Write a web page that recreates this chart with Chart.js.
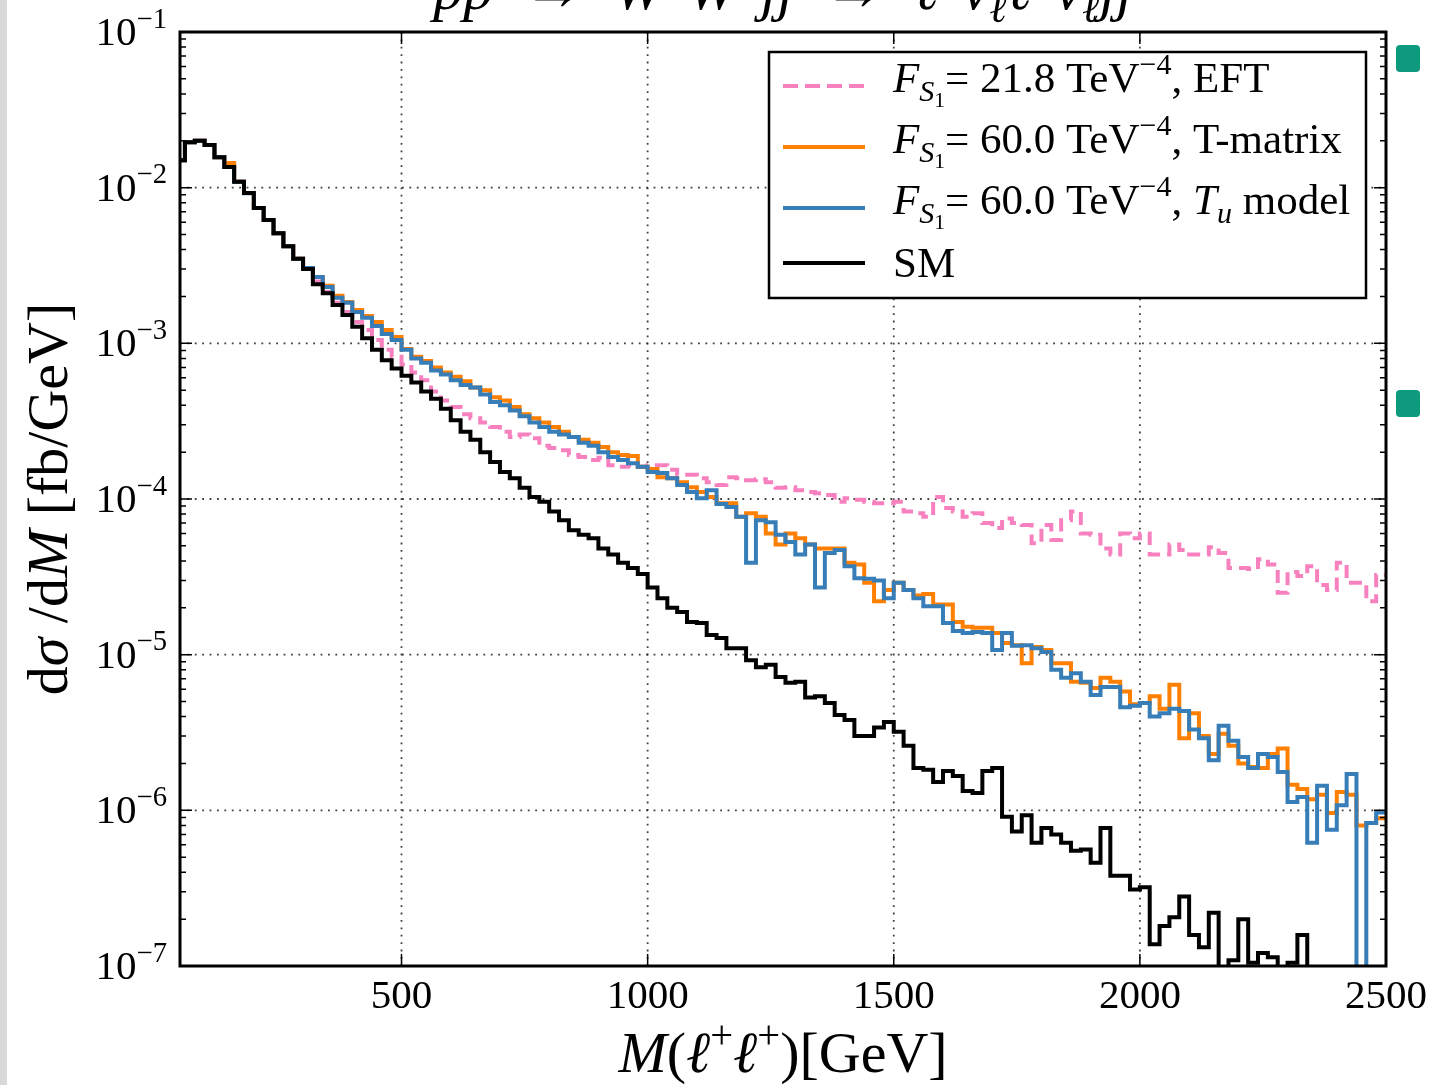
<!DOCTYPE html>
<html>
<head>
<meta charset="utf-8">
<title>dσ/dM – W+W+jj</title>
<script src="https://cdn.jsdelivr.net/npm/chart.js@4.4.0/dist/chart.umd.min.js"></script>
<style>
    html, body { margin: 0; padding: 0; background: #fff; }
    #wrap { position: relative; width: 1429px; height: 1085px; overflow: hidden; }
    #leftStrip { position: absolute; left: 0; top: 0; width: 7px; height: 1085px; background: #d9d9d9; }
    .marker { position: absolute; left: 1396px; width: 24px; height: 27px; background: #0e9a7c; border-radius: 4px; }
</style>
</head>
<body>
<div id="wrap">
    <canvas id="histChart" width="1429" height="1085"></canvas>
    <div id="leftStrip"></div>
    <div class="marker" style="top:45px"></div>
    <div class="marker" style="top:390px"></div>
</div>
<script>
// Гистограммы dσ/dM, бины по 20 ГэВ начиная с 40 ГэВ (левые края)
const BIN_WIDTH = 20;
const binLowEdges = Array.from({ length: 123 }, (_, i) => 40 + i * BIN_WIDTH);
const X_MIN = 50;
const X_MAX = 2500;

// Стандартная модель
const smValues = [
    1.5e-2, 1.96e-2, 2.0e-2, 1.88e-2, 1.57e-2, 1.36e-2, 1.09e-2, 9.25e-3, 7.4e-3, 6.2e-3,
    5.1e-3, 4.2e-3, 3.5e-3, 3.0e-3, 2.4e-3, 2.1e-3, 1.76e-3, 1.52e-3, 1.28e-3, 1.08e-3,
    9.1e-4, 7.8e-4, 6.9e-4, 6.2e-4, 5.6e-4, 4.9e-4, 4.4e-4, 3.8e-4, 3.2e-4, 2.7e-4,
    2.4e-4, 2.0e-4, 1.73e-4, 1.49e-4, 1.36e-4, 1.18e-4, 1.03e-4, 9.6e-5, 8.3e-5, 7.3e-5,
    6.3e-5, 5.9e-5, 5.6e-5, 4.8e-5, 4.4e-5, 3.9e-5, 3.6e-5, 3.3e-5, 2.7e-5, 2.3e-5,
    2.0e-5, 1.88e-5, 1.62e-5, 1.6e-5, 1.34e-5, 1.28e-5, 1.1e-5, 1.1e-5, 9.2e-6, 8.3e-6,
    8.6e-6, 7.2e-6, 6.6e-6, 6.7e-6, 5.3e-6, 5.4e-6, 4.9e-6, 4.1e-6, 3.8e-6, 3.0e-6,
    3.0e-6, 3.4e-6, 3.7e-6, 3.2e-6, 2.6e-6, 1.87e-6, 1.82e-6, 1.52e-6, 1.79e-6, 1.66e-6,
    1.33e-6, 1.29e-6, 1.79e-6, 1.87e-6, 9.1e-7, 7.3e-7, 9.3e-7, 6.2e-7, 7.7e-7, 7.0e-7,
    6.2e-7, 5.5e-7, 5.6e-7, 4.6e-7, 7.7e-7, 3.8e-7, 3.8e-7, 3.1e-7, 3.2e-7, 1.38e-7,
    1.81e-7, 2.06e-7, 2.8e-7, 1.58e-7, 1.32e-7, 2.2e-7, 0, 1.09e-7, 2.0e-7, 1.05e-7,
    1.21e-7, 1.14e-7, 0, 1.05e-7, 1.58e-7, 0, 0, 0, 0, 0,
    0, 0, 0
];

// F_S1 = 60 TeV^-4, T_u модель
const tuValues = [
    1.5e-2, 1.96e-2, 2.0e-2, 1.88e-2, 1.57e-2, 1.36e-2, 1.09e-2, 9.2e-3, 7.4e-3, 6.2e-3,
    5.1e-3, 4.2e-3, 3.5e-3, 3.05e-3, 2.67e-3, 2.3e-3, 1.96e-3, 1.82e-3, 1.59e-3, 1.46e-3,
    1.29e-3, 1.15e-3, 1.05e-3, 9.1e-4, 8.0e-4, 7.5e-4, 6.7e-4, 6.3e-4, 5.8e-4, 5.4e-4,
    5.2e-4, 4.7e-4, 4.2e-4, 4.0e-4, 3.7e-4, 3.4e-4, 3.1e-4, 2.9e-4, 2.7e-4, 2.6e-4,
    2.5e-4, 2.3e-4, 2.2e-4, 2.0e-4, 1.86e-4, 1.78e-4, 1.7e-4, 1.61e-4, 1.49e-4, 1.47e-4,
    1.36e-4, 1.23e-4, 1.11e-4, 1.01e-4, 1.14e-4, 9.3e-5, 8.9e-5, 7.7e-5, 3.9e-5, 7.3e-5,
    7.1e-5, 5.9e-5, 5.3e-5, 4.4e-5, 5.1e-5, 2.7e-5, 4.5e-5, 4.7e-5, 3.7e-5, 3.1e-5,
    3.07e-5, 3.0e-5, 2.3e-5, 2.9e-5, 2.6e-5, 2.3e-5, 2.05e-5, 2.05e-5, 1.6e-5, 1.42e-5,
    1.38e-5, 1.4e-5, 1.38e-5, 1.07e-5, 1.38e-5, 1.14e-5, 1.15e-5, 1.1e-5, 1.04e-5, 8.0e-6,
    7.1e-6, 7.6e-6, 6.7e-6, 5.5e-6, 6.2e-6, 6.2e-6, 4.6e-6, 4.7e-6, 4.9e-6, 4.0e-6,
    4.2e-6, 4.5e-6, 4.35e-6, 3.3e-6, 2.9e-6, 2.1e-6, 3.5e-6, 2.8e-6, 2.2e-6, 1.87e-6,
    2.3e-6, 2.2e-6, 1.76e-6, 1.13e-6, 1.22e-6, 6.2e-7, 1.44e-6, 7.5e-7, 1.08e-6, 1.71e-6,
    0, 8.3e-7, 9.7e-7
];

// F_S1 = 60 TeV^-4, T-матрица
const tMatrixValues = [
    1.5e-2, 1.96e-2, 2.0e-2, 1.88e-2, 1.57e-2, 1.44e-2, 1.09e-2, 9.25e-3, 7.4e-3, 6.2e-3,
    5.1e-3, 4.2e-3, 3.5e-3, 3.05e-3, 2.67e-3, 2.34e-3, 2.02e-3, 1.84e-3, 1.64e-3, 1.5e-3,
    1.37e-3, 1.22e-3, 1.1e-3, 9.2e-4, 8.2e-4, 7.7e-4, 7.0e-4, 6.5e-4, 6.1e-4, 5.7e-4,
    5.2e-4, 5.0e-4, 4.5e-4, 4.3e-4, 3.9e-4, 3.5e-4, 3.3e-4, 3.1e-4, 2.9e-4, 2.7e-4,
    2.5e-4, 2.4e-4, 2.3e-4, 2.16e-4, 2.0e-4, 1.92e-4, 1.89e-4, 1.61e-4, 1.56e-4, 1.38e-4,
    1.36e-4, 1.28e-4, 1.19e-4, 1.11e-4, 1.03e-4, 9.4e-5, 9.4e-5, 7.7e-5, 8.1e-5, 7.7e-5,
    6.0e-5, 5.1e-5, 6.0e-5, 5.6e-5, 5.1e-5, 4.8e-5, 4.8e-5, 4.8e-5, 3.9e-5, 3.8e-5,
    2.9e-5, 2.2e-5, 2.6e-5, 2.9e-5, 2.6e-5, 2.4e-5, 2.45e-5, 2.1e-5, 2.1e-5, 1.62e-5,
    1.51e-5, 1.49e-5, 1.49e-5, 1.38e-5, 1.19e-5, 1.15e-5, 8.8e-6, 1.12e-5, 1.07e-5, 8.8e-6,
    8.8e-6, 6.7e-6, 6.6e-6, 6.1e-6, 7.1e-6, 6.7e-6, 5.8e-6, 4.8e-6, 4.9e-6, 5.4e-6,
    4.5e-6, 6.4e-6, 2.9e-6, 4.2e-6, 3.0e-6, 2.3e-6, 3.1e-6, 2.6e-6, 2.0e-6, 1.9e-6,
    1.87e-6, 2.3e-6, 2.5e-6, 1.46e-6, 1.37e-6, 1.18e-6, 1.26e-6, 9.6e-7, 1.31e-6, 1.26e-6,
    8.0e-7, 8.3e-7, 8.9e-7
];

// F_S1 = 21.8 TeV^-4, EFT
const eftValues = [
    1.5e-2, 1.96e-2, 2.0e-2, 1.88e-2, 1.57e-2, 1.36e-2, 1.09e-2, 9.25e-3, 7.4e-3, 6.2e-3,
    5.1e-3, 4.2e-3, 3.5e-3, 3.0e-3, 2.5e-3, 2.14e-3, 1.82e-3, 1.59e-3, 1.37e-3, 1.22e-3,
    1.05e-3, 9.1e-4, 8.2e-4, 7.3e-4, 6.5e-4, 5.8e-4, 4.9e-4, 4.3e-4, 3.9e-4, 3.5e-4,
    3.3e-4, 3.1e-4, 2.9e-4, 2.7e-4, 2.5e-4, 2.6e-4, 2.46e-4, 2.2e-4, 2.13e-4, 2.06e-4,
    1.92e-4, 1.86e-4, 1.78e-4, 1.84e-4, 1.65e-4, 1.61e-4, 1.65e-4, 1.61e-4, 1.65e-4, 1.65e-4,
    1.54e-4, 1.43e-4, 1.43e-4, 1.36e-4, 1.28e-4, 1.23e-4, 1.38e-4, 1.36e-4, 1.32e-4, 1.34e-4,
    1.28e-4, 1.18e-4, 1.19e-4, 1.14e-4, 1.11e-4, 1.09e-4, 1.06e-4, 9.6e-5, 1.01e-4, 9.9e-5,
    9.6e-5, 9.4e-5, 9.4e-5, 9.6e-5, 8.3e-5, 8.1e-5, 7.7e-5, 1.03e-4, 8.75e-5, 8.3e-5,
    7.7e-5, 8.1e-5, 7.0e-5, 6.5e-5, 7.5e-5, 7.0e-5, 6.8e-5, 5.2e-5, 6.8e-5, 5.45e-5,
    7.3e-5, 8.3e-5, 6.0e-5, 5.9e-5, 4.8e-5, 4.4e-5, 6.0e-5, 5.6e-5, 6.0e-5, 4.4e-5,
    4.4e-5, 5.1e-5, 4.7e-5, 4.4e-5, 4.4e-5, 4.9e-5, 4.5e-5, 3.6e-5, 3.6e-5, 3.55e-5,
    4.1e-5, 3.8e-5, 2.5e-5, 3.4e-5, 3.2e-5, 3.7e-5, 2.8e-5, 2.6e-5, 3.9e-5, 2.9e-5,
    2.9e-5, 2.2e-5, 3.25e-5
];

// Подписи осей
const xTickValues = [500, 1000, 1500, 2000, 2500];
const yTickExponents = [-7, -6, -5, -4, -3, -2, -1];

const SERIF = "'Liberation Serif', 'DejaVu Serif', serif";
const EMPTY_BIN = 1e-12; // пустой бин: линия уходит под нижнюю ось
const LINE_W = 4;

// точки ступенчатой линии: левые края + правый край последнего бина
function toSteps(values) {
    const pts = binLowEdges.map((edge, i) => ({ x: edge, y: values[i] > 0 ? values[i] : EMPTY_BIN }));
    const last = values[values.length - 1];
    pts.push({ x: binLowEdges[binLowEdges.length - 1] + BIN_WIDTH, y: last > 0 ? last : EMPTY_BIN });
    return pts;
}

// текст с курсивом, индексами и степенями
function richText(ctx, parts, x, y, size, align) {
    const specs = parts.map(([t, kind]) => {
        let s = size, dy = 0, italic = false;
        if (kind === 'i') italic = true;
        if (kind === 'sup') { s = size * 0.7; dy = -size * 0.42; }
        if (kind === 'sub') { s = size * 0.7; dy = size * 0.22; }
        if (kind === 'subi') { s = size * 0.7; dy = size * 0.22; italic = true; }
        if (kind === 'subsub') { s = size * 0.5; dy = size * 0.36; }
        return { t, dy, font: (italic ? 'italic ' : '') + s + 'px ' + SERIF };
    });
    let width = 0;
    specs.forEach(sp => { ctx.font = sp.font; sp.w = ctx.measureText(sp.t).width; width += sp.w; });
    let cx = x;
    if (align === 'center') cx = x - width / 2;
    if (align === 'right') cx = x - width;
    ctx.textAlign = 'left';
    ctx.textBaseline = 'alphabetic';
    specs.forEach(sp => { ctx.font = sp.font; ctx.fillText(sp.t, cx, y + sp.dy); cx += sp.w; });
    return width;
}

const legendRows = [
    { color: '#f781bf', dash: [15, 7], parts: [['F', 'i'], ['S', 'subi'], ['1', 'subsub'], ['= 21.8 TeV', 'r'], ['−4', 'sup'], [', EFT', 'r']] },
    { color: '#ff7f00', dash: [], parts: [['F', 'i'], ['S', 'subi'], ['1', 'subsub'], ['= 60.0 TeV', 'r'], ['−4', 'sup'], [', T-matrix', 'r']] },
    { color: '#377eb8', dash: [], parts: [['F', 'i'], ['S', 'subi'], ['1', 'subsub'], ['= 60.0 TeV', 'r'], ['−4', 'sup'], [', ', 'r'], ['T', 'i'], ['u', 'subi'], [' model', 'r']] },
    { color: '#000000', dash: [], parts: [['SM', 'r']] }
];

const axesPlugin = {
    id: 'axesDecor',
    beforeDatasetsDraw(chart) {
        const { ctx, chartArea: a, scales: { x, y } } = chart;
        ctx.save();
        ctx.strokeStyle = 'rgba(30,30,30,0.85)';
        ctx.lineWidth = 1.8;
        ctx.setLineDash([1.8, 5.6]);
        xTickValues.forEach(v => {
            const px = x.getPixelForValue(v);
            if (px > a.right - 3) return;
            ctx.beginPath(); ctx.moveTo(px, a.top); ctx.lineTo(px, a.bottom); ctx.stroke();
        });
        yTickExponents.forEach(e => {
            const py = y.getPixelForValue(Math.pow(10, e));
            if (py < a.top + 3 || py > a.bottom - 3) return;
            ctx.beginPath(); ctx.moveTo(a.left, py); ctx.lineTo(a.right, py); ctx.stroke();
        });
        ctx.restore();
    },
    afterDraw(chart) {
        const { ctx, chartArea: a, scales: { x, y } } = chart;
        ctx.save();
        ctx.fillStyle = '#000';
        ctx.strokeStyle = '#000';

        // риски внутрь
        ctx.lineWidth = 1.5;
        xTickValues.forEach(v => {
            const px = x.getPixelForValue(v);
            ctx.beginPath();
            ctx.moveTo(px, a.bottom); ctx.lineTo(px, a.bottom - 12);
            ctx.moveTo(px, a.top); ctx.lineTo(px, a.top + 12);
            ctx.stroke();
        });
        yTickExponents.forEach(e => {
            const py = y.getPixelForValue(Math.pow(10, e));
            ctx.beginPath();
            ctx.moveTo(a.left, py); ctx.lineTo(a.left + 12, py);
            ctx.moveTo(a.right, py); ctx.lineTo(a.right - 12, py);
            ctx.stroke();
            if (e === -1) return;
            for (let m = 2; m <= 9; m++) {
                const pm = y.getPixelForValue(m * Math.pow(10, e));
                ctx.beginPath();
                ctx.moveTo(a.left, pm); ctx.lineTo(a.left + 6, pm);
                ctx.moveTo(a.right, pm); ctx.lineTo(a.right - 6, pm);
                ctx.stroke();
            }
        });

        // рамка
        ctx.lineWidth = 3;
        ctx.strokeRect(a.left, a.top, a.right - a.left, a.bottom - a.top);

        // подписи делений
        xTickValues.forEach(v => {
            richText(ctx, [[String(v), 'r']], x.getPixelForValue(v), a.bottom + 42, 41, 'center');
        });
        yTickExponents.forEach(e => {
            const py = y.getPixelForValue(Math.pow(10, e));
            richText(ctx, [['10', 'r'], ['−' + Math.abs(e), 'sup']], a.left - 13, py + 13, 41, 'right');
        });

        // заголовок (срезан верхним краем)
        richText(ctx, [['pp', 'i'], ['  →  ', 'r'], ['W', 'i'], ['+', 'sup'], ['W', 'i'], ['+', 'sup'], ['jj', 'i'],
            ['  →  ', 'r'], ['ℓ', 'i'], ['+', 'sup'], ['ν', 'i'], ['ℓ', 'subi'], ['ℓ', 'i'], ['+', 'sup'],
            ['ν', 'i'], ['ℓ', 'subi'], ['jj', 'i']], (a.left + a.right) / 2, 9, 60, 'center');

        // подписи осей
        richText(ctx, [['M', 'i'], ['(', 'r'], ['ℓ', 'i'], ['+', 'sup'], ['ℓ', 'i'], ['+', 'sup'], [')[GeV]', 'r']],
            (a.left + a.right) / 2, 1072, 58, 'center');
        ctx.save();
        ctx.translate(67, (a.top + a.bottom) / 2);
        ctx.rotate(-Math.PI / 2);
        richText(ctx, [['d', 'r'], ['σ', 'i'], [' /d', 'r'], ['M', 'i'], [' [fb/GeV]', 'r']], 0, 0, 58, 'center');
        ctx.restore();

        // легенда
        const box = { left: 769, top: 52, w: 597, h: 246 };
        ctx.fillStyle = '#fff';
        ctx.fillRect(box.left, box.top, box.w, box.h);
        ctx.lineWidth = 2.5;
        ctx.strokeRect(box.left, box.top, box.w, box.h);
        const lineY = [86, 147, 208, 263];
        const textY = [92, 153, 214, 277];
        legendRows.forEach((row, i) => {
            ctx.strokeStyle = row.color;
            ctx.lineWidth = LINE_W;
            ctx.setLineDash(row.dash);
            ctx.beginPath(); ctx.moveTo(783, lineY[i]); ctx.lineTo(865, lineY[i]); ctx.stroke();
            ctx.setLineDash([]);
            ctx.fillStyle = '#000';
            richText(ctx, row.parts, 893, textY[i], 43, 'left');
        });
        ctx.restore();
    }
};

function makeDataset(label, values, color, dash) {
    return {
        label: label,
        data: toSteps(values),
        borderColor: color,
        borderWidth: LINE_W,
        borderDash: dash,
        stepped: 'before',
        pointRadius: 0,
        fill: false,
        tension: 0
    };
}

document.addEventListener('DOMContentLoaded', () => {
    const ctx = document.getElementById('histChart').getContext('2d');
    window.histChart = new Chart(ctx, {
        type: 'line',
        data: {
            datasets: [
                makeDataset('SM', smValues, '#000000', []),
                makeDataset('Tu model', tuValues, '#377eb8', []),
                makeDataset('T-matrix', tMatrixValues, '#ff7f00', []),
                makeDataset('EFT', eftValues, '#f781bf', [13, 7])
            ]
        },
        options: {
            responsive: false,
            animation: false,
            layout: { padding: { left: 180, right: 43, top: 32, bottom: 119 } },
            plugins: { legend: { display: false }, tooltip: { enabled: false } },
            scales: {
                x: { type: 'linear', min: X_MIN, max: X_MAX, display: false },
                y: { type: 'logarithmic', min: 1e-7, max: 1e-1, display: false }
            }
        },
        plugins: [axesPlugin]
    });
});
</script>
</body>
</html>
